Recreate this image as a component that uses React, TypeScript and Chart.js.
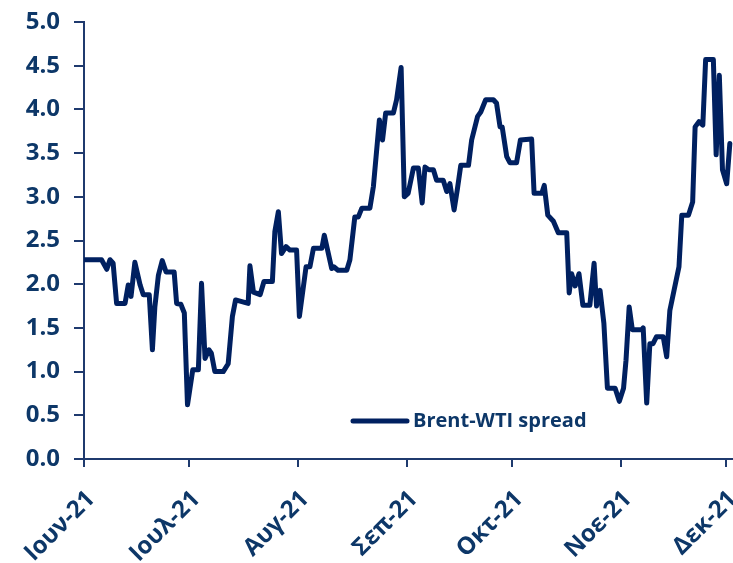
import React, { useEffect, useRef } from 'react';
import { Chart, registerables } from 'chart.js';

Chart.register(...registerables);

// Month tick positions (days since 1 Jun 2021) and their labels
const monthStartDays = [0, 30, 61, 92, 122, 153, 183];
const monthLabels = ['Ιουν-21', 'Ιουλ-21', 'Αυγ-21', 'Σεπ-21', 'Οκτ-21', 'Νοε-21', 'Δεκ-21'];

// Observation dates (days since 1 Jun 2021)
const dayOffsets = [
  0, 5, 6.5, 7.4, 8.3, 9.3, 11.7, 12.6, 13.4, 14.5, 16, 16.9, 18.6, 19.5, 20.2, 21.2, 22.3, 23.4, 25.7,
  26.4, 27.6, 28.6, 29.5, 31, 32.6, 33.5, 34.5, 35.6, 36.3, 37.3, 39.7, 41.1, 42.3, 43.2, 46.8, 47.3,
  48.3, 50.2, 51.3, 53.7, 54.4, 55.4, 56.3, 57.6, 58.7, 60.6, 61.4, 63.3, 64.4, 65.4, 67.8, 68.5, 70.6,
  71.2, 72.4, 74.9, 75.8, 77.2, 78.2, 79.2, 81.5, 82.5, 84.2, 85.1, 86, 88.2, 89.1, 90.4, 91.3, 92.4,
  93.9, 95.3, 96.4, 97.2, 98.3, 99.6, 100.5, 102.4, 103.4, 104.3, 105.5, 106.4, 107.4, 109.6, 110.5,
  112.2, 113.1, 114.5, 116.7, 117.6, 118.6, 119.2, 120.5, 121.4, 123.3, 124.4, 127.6, 128.3, 130.5,
  131.2, 132.2, 133.8, 135.2, 137.6, 138.3, 139, 140, 141.1, 142.2, 144.2, 145.4, 146.1, 147.1, 148.2,
  149.2, 151.4, 152.6, 153.8, 154.5, 155.4, 156.3, 159, 159.4, 160.4, 161.3, 162.2, 163.2, 165.1, 166.1,
  167, 168.2, 169.6, 170.4, 172.3, 173.5, 174.2, 175.3, 176.4, 177.2, 179.4, 180.2, 181.1, 182, 183.2,
  184.1,
];

// Brent-WTI spread (USD/bbl)
const spread = [
  2.28, 2.28, 2.17, 2.28, 2.24, 1.78, 1.78, 1.99, 1.86, 2.25, 1.99, 1.88, 1.88, 1.25, 1.74, 2.1, 2.27, 2.14, 2.14,
  1.78, 1.77, 1.67, 0.62, 1.02, 1.02, 2.01, 1.15, 1.25, 1.21, 1.0, 1.0, 1.09, 1.63, 1.82, 1.78, 2.21,
  1.91, 1.88, 2.03, 2.03, 2.6, 2.83, 2.35, 2.43, 2.39, 2.39, 1.63, 2.2, 2.2, 2.41, 2.41, 2.56, 2.18,
  2.2, 2.16, 2.16, 2.28, 2.77, 2.77, 2.87, 2.87, 3.12, 3.88, 3.65, 3.96, 3.96, 4.11, 4.48, 3.0, 3.04,
  3.33, 3.33, 2.93, 3.34, 3.31, 3.31, 3.19, 3.19, 3.06, 3.15, 2.85, 3.08, 3.36, 3.36, 3.65,
  3.92, 3.97, 4.11, 4.11, 4.07, 3.8, 3.8, 3.46, 3.39, 3.39, 3.65, 3.66, 3.04, 3.04,
  3.13, 2.79, 2.72, 2.59, 2.59, 1.9, 2.12, 1.98, 2.12, 1.76, 1.76, 2.24, 1.75, 1.93, 1.55,
  0.81, 0.81, 0.66, 0.81, 1.13, 1.74, 1.48, 1.48, 1.5, 0.64, 1.32, 1.32, 1.4, 1.4, 1.17,
  1.7, 1.93, 2.2, 2.79, 2.79, 2.94, 3.8, 3.86, 3.82, 4.57, 4.57, 3.48, 4.39, 3.31, 3.15,
  3.61,
];

const seriesName = 'Brent-WTI spread';
const yMin = 0;
const yMax = 5;
const yStep = 0.5;
const xMax = 185;

const LINE = '#002060';
const TEXT = '#0D3768';
const AXIS = '#1F3A6E';
const FONT = '"Open Sans", "DejaVu Sans", sans-serif';

const insideLegend = {
  id: 'insideLegend',
  afterDraw(chart: any) {
    const { ctx, chartArea } = chart;
    const w = chartArea.right - chartArea.left;
    const h = chartArea.bottom - chartArea.top;
    const x0 = chartArea.left + w * 0.4145;
    const y0 = chartArea.top + h * 0.913;
    ctx.save();
    ctx.strokeStyle = LINE;
    ctx.lineWidth = 5;
    ctx.lineCap = 'round';
    ctx.beginPath();
    ctx.moveTo(x0, y0);
    ctx.lineTo(x0 + 54, y0);
    ctx.stroke();
    ctx.fillStyle = TEXT;
    ctx.font = `bold 20px ${FONT}`;
    ctx.textAlign = 'left';
    ctx.textBaseline = 'middle';
    ctx.fillText(seriesName, x0 + 60, y0);
    ctx.restore();
  },
};

export default function App() {
  const ref = useRef<HTMLCanvasElement | null>(null);

  useEffect(() => {
    if (!ref.current) return;
    const chart = new Chart(ref.current, {
      type: 'line',
      data: {
        datasets: [
          {
            label: seriesName,
            data: dayOffsets.map((d, i) => ({ x: d, y: spread[i] })),
            borderColor: LINE,
            backgroundColor: LINE,
            borderWidth: 5,
            pointRadius: 0,
            tension: 0,
            borderJoinStyle: 'round',
            borderCapStyle: 'round',
          },
        ],
      },
      options: {
        animation: false,
        responsive: false,
        layout: { padding: { top: 22, right: 0, left: 0, bottom: 0 } },
        plugins: { legend: { display: false }, tooltip: { enabled: false } },
        scales: {
          x: {
            type: 'linear',
            min: 0,
            max: xMax,
            afterBuildTicks: (scale: any) => {
              scale.ticks = monthStartDays.map((v) => ({ value: v }));
            },
            afterFit: (scale: any) => {
              scale.height = 104;
              scale.paddingRight = 0;
              scale.paddingLeft = 0;
            },
            ticks: {
              autoSkip: false,
              maxRotation: 45,
              minRotation: 45,
              padding: 18,
              labelOffset: 7,
              color: TEXT,
              font: { family: FONT, size: 24, weight: 'bold' },
              callback: (v: any) => {
                const i = monthStartDays.indexOf(Number(v));
                return i >= 0 ? monthLabels[i] : '';
              },
            },
            grid: { drawOnChartArea: false, drawTicks: true, tickLength: 8, color: AXIS, lineWidth: 2 },
            border: { display: true, color: AXIS, width: 2 },
          },
          y: {
            min: yMin,
            max: yMax,
            afterFit: (scale: any) => {
              scale.width = 84;
              scale.paddingTop = 0;
              scale.paddingBottom = 0;
            },
            ticks: {
              stepSize: yStep,
              padding: 14,
              color: TEXT,
              font: { family: FONT, size: 24, weight: 'bold' },
              callback: (v: any) => Number(v).toFixed(1),
            },
            grid: { drawOnChartArea: false, drawTicks: true, tickLength: 10, color: AXIS, lineWidth: 2 },
            border: { display: true, color: AXIS, width: 2 },
          },
        },
      },
      plugins: [insideLegend],
    });
    return () => chart.destroy();
  }, []);

  return (
    <div style={{ position: 'absolute', left: 0, top: 0, width: 733, height: 563, background: '#fff' }}>
      <canvas ref={ref} width={733} height={563} />
    </div>
  );
}
